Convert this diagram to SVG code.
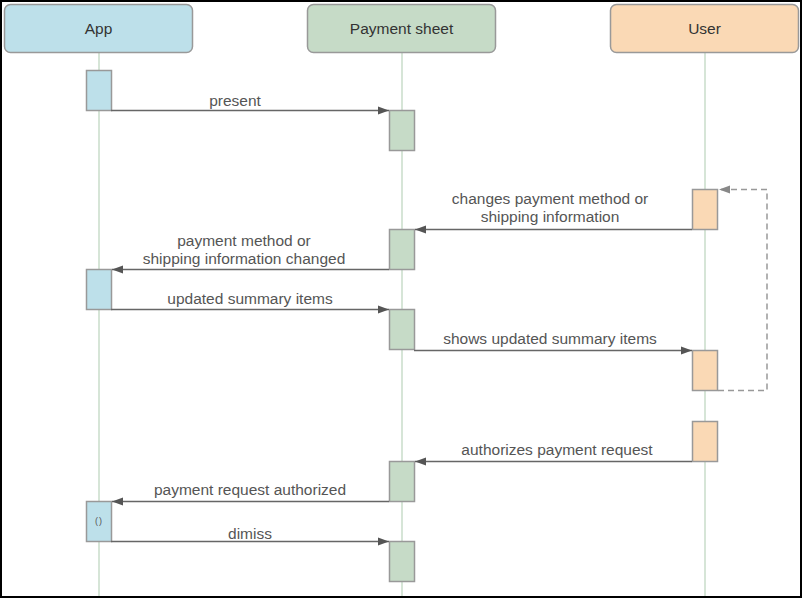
<svg xmlns="http://www.w3.org/2000/svg" width="802" height="599" viewBox="0 0 802 599">
<style>
.hdr{stroke:#999;stroke-width:1.5}
.app{fill:#bde0ea}
.pay{fill:#c6dbc7}
.usr{fill:#fad9b5}
.life{stroke:#c9ddca;stroke-width:1.5;fill:none}
.act{stroke:#999;stroke-width:1.5}
.ht{font-family:"Liberation Sans",Arial,sans-serif;font-size:15.5px;fill:#333;text-anchor:middle}
.lbl{font-family:"Liberation Sans",Arial,sans-serif;font-size:15.5px;fill:#555;text-anchor:middle}
.msg{stroke:#666;stroke-width:1.5;fill:none}
.loop{stroke:#999;stroke-width:1.5;fill:none;stroke-dasharray:6,4}
</style>
<defs>
<marker id="arr" markerWidth="12" markerHeight="10" refX="11" refY="5" orient="auto" markerUnits="userSpaceOnUse">
<path d="M0,1 L11,5 L0,9 z" fill="#555"/>
</marker>
<marker id="arrl" markerWidth="12" markerHeight="10" refX="11" refY="5" orient="auto" markerUnits="userSpaceOnUse">
<path d="M0,1 L11,5 L0,9 z" fill="#888"/>
</marker>
</defs>
<rect x="1" y="1" width="800" height="596" fill="#fff" stroke="#000" stroke-width="2"/>

<g id="lifelines">
<line class="life" x1="99" y1="53" x2="99" y2="596"/>
<line class="life" x1="402" y1="53" x2="402" y2="596"/>
<line class="life" x1="705" y1="53" x2="705" y2="596"/>
</g>

<g id="node-app">
<rect class="hdr app" x="4.5" y="4.5" width="188" height="48" rx="6"/>
<text class="ht" x="98.5" y="34">App</text>
</g>
<g id="node-payment">
<rect class="hdr pay" x="307.5" y="4.5" width="188" height="48" rx="6"/>
<text class="ht" x="401.5" y="34">Payment sheet</text>
</g>
<g id="node-user">
<rect class="hdr usr" x="610.5" y="4.5" width="188" height="48" rx="6"/>
<text class="ht" x="704.5" y="34">User</text>
</g>

<g id="activations">
<rect class="act app" x="86.5" y="70.5" width="25" height="40"/>
<rect class="act pay" x="389.5" y="110.5" width="25" height="40"/>
<rect class="act usr" x="692.5" y="189.5" width="25" height="40"/>
<rect class="act pay" x="389.5" y="229.5" width="25" height="40"/>
<rect class="act app" x="86.5" y="269.5" width="25" height="40"/>
<rect class="act pay" x="389.5" y="309.5" width="25" height="40"/>
<rect class="act usr" x="692.5" y="350.5" width="25" height="40"/>
<rect class="act usr" x="692.5" y="421.5" width="25" height="40"/>
<rect class="act pay" x="389.5" y="461.5" width="25" height="40"/>
<rect class="act app" x="86.5" y="501.5" width="25" height="40"/>
<text x="99" y="524" font-family="'Liberation Sans',Arial,sans-serif" font-size="9" letter-spacing="1" fill="#555" text-anchor="middle">()</text>
<rect class="act pay" x="389.5" y="541.5" width="25" height="40"/>
</g>

<g id="connectors">
<line class="msg" x1="111" y1="110.5" x2="389" y2="110.5" marker-end="url(#arr)"/>
<line class="msg" x1="692" y1="229.5" x2="415" y2="229.5" marker-end="url(#arr)"/>
<line class="msg" x1="389" y1="269.5" x2="112" y2="269.5" marker-end="url(#arr)"/>
<line class="msg" x1="111" y1="309.5" x2="389" y2="309.5" marker-end="url(#arr)"/>
<line class="msg" x1="414" y1="350.5" x2="692" y2="350.5" marker-end="url(#arr)"/>
<polyline class="loop" points="718,390.5 767,390.5 767,189.5 719,189.5" marker-end="url(#arrl)"/>
<line class="msg" x1="692" y1="461.5" x2="415" y2="461.5" marker-end="url(#arr)"/>
<line class="msg" x1="389" y1="501.5" x2="112" y2="501.5" marker-end="url(#arr)"/>
<line class="msg" x1="111" y1="541.5" x2="389" y2="541.5" marker-end="url(#arr)"/>
</g>

<g id="labels">
<text class="lbl" x="235" y="106">present</text>
<text class="lbl" x="550" y="204">changes payment method or</text>
<text class="lbl" x="550" y="222">shipping information</text>
<text class="lbl" x="244" y="246">payment method or</text>
<text class="lbl" x="244" y="264">shipping information changed</text>
<text class="lbl" x="250" y="304">updated summary items</text>
<text class="lbl" x="550" y="344">shows updated summary items</text>
<text class="lbl" x="557" y="455">authorizes payment request</text>
<text class="lbl" x="250" y="495">payment request authorized</text>
<text class="lbl" x="250" y="539">dimiss</text>
</g>
</svg>
